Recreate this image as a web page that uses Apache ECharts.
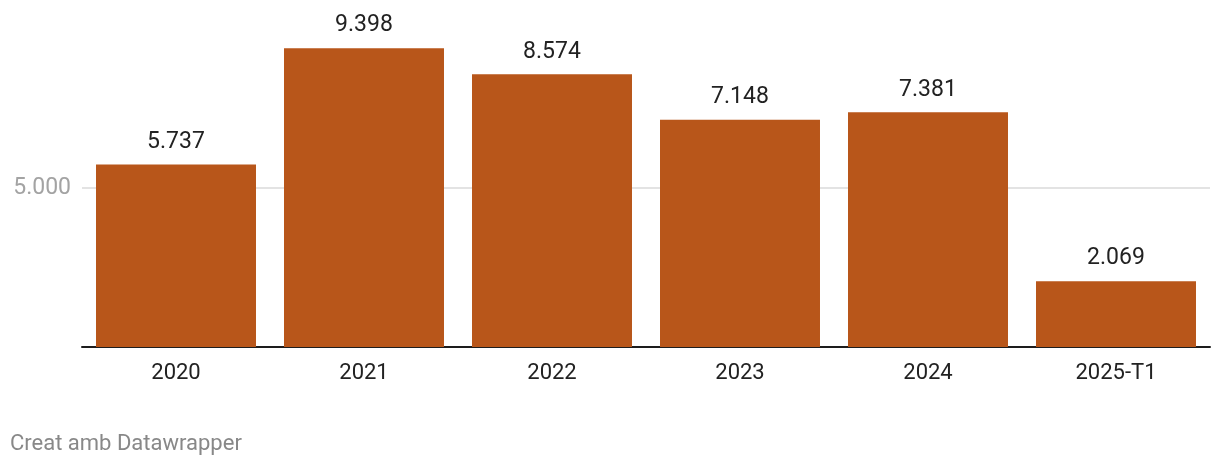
<!DOCTYPE html>
<html>
<head>
<meta charset="utf-8">
<script src="https://cdn.jsdelivr.net/npm/echarts@6/dist/echarts.min.js"></script>
<style>
html,body{margin:0;padding:0;background:#fff;}
#chart{width:1220px;height:468px;}
</style>
</head>
<body>
<div id="chart"></div>
<script>
var categories = ['2020', '2021', '2022', '2023', '2024', '2025-T1'];
var values = [5737, 9398, 8574, 7148, 7381, 2069];
var yTicks = [0, 5000, 10000];
var footerText = 'Creat amb Datawrapper';

function fmt(v) {
  return String(v).replace(/\B(?=(\d{3})+(?!\d))/g, '.');
}

var chart = echarts.init(document.getElementById('chart'));
chart.setOption({
  animation: false,
  textStyle: { fontFamily: 'Roboto' },
  grid: { left: 82, right: 10, top: 29, bottom: 121 },
  xAxis: {
    type: 'category',
    data: categories,
    axisLine: { show: true, lineStyle: { color: '#1d1d1d', width: 2 } },
    axisTick: { show: false },
    axisLabel: { color: '#222', fontSize: 22, margin: 15, fontFamily: 'Roboto' }
  },
  yAxis: {
    type: 'value',
    min: yTicks[0],
    max: yTicks[2],
    interval: yTicks[1],
    axisLine: { show: false },
    axisTick: { show: false },
    axisLabel: {
      color: '#a3a3a3', fontSize: 23, margin: 11, fontFamily: 'Roboto',
      showMinLabel: false, showMaxLabel: false,
      formatter: function (v) { return fmt(v); }
    },
    splitLine: { show: true, showMinLine: false, showMaxLine: false, lineStyle: { color: '#e3e3e3', width: 2 } }
  },
  series: [{
    type: 'bar',
    data: values,
    barCategoryGap: '14.9%',
    itemStyle: { color: '#b8561a' },
    label: {
      show: true, position: 'top', distance: 11,
      color: '#222', fontSize: 23, fontFamily: 'Roboto',
      formatter: function (p) { return fmt(p.value); }
    }
  }],
  graphic: [{
    type: 'text', left: 10, top: 433,
    style: { text: footerText, fill: '#888', fontSize: 22, fontFamily: 'Roboto' }
  }]
});
</script>
</body>
</html>
